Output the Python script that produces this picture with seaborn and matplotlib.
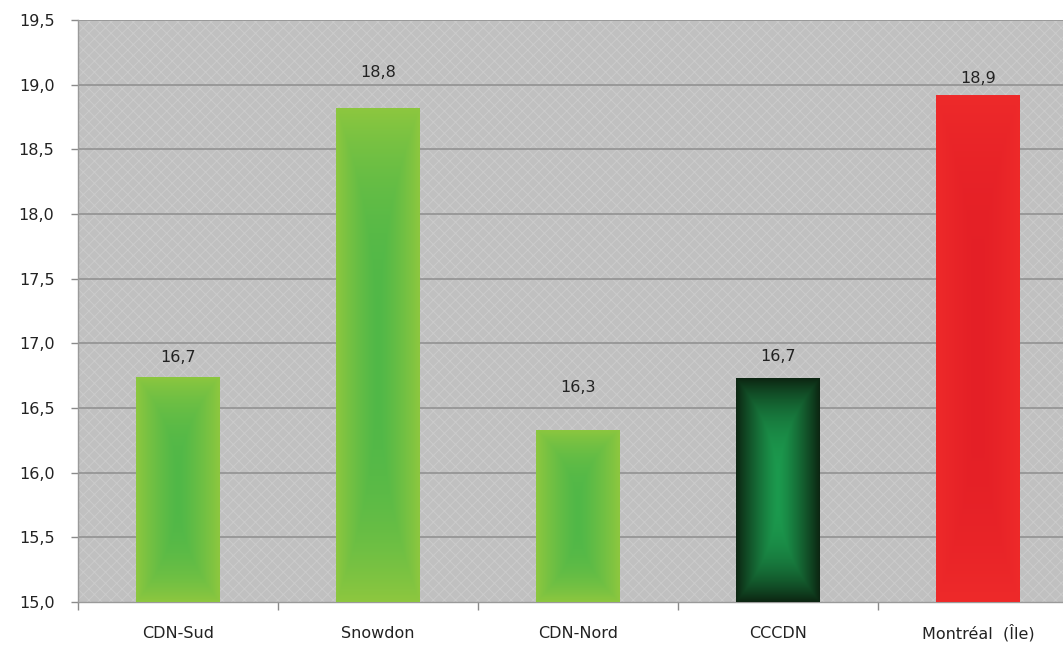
import numpy as np
import pandas as pd
import matplotlib
matplotlib.use("Agg")
import matplotlib.pyplot as plt
import matplotlib.colors as mcolors
from matplotlib.patches import Rectangle
from matplotlib.ticker import FixedLocator, FuncFormatter
import seaborn as sns

# ---- data ----
categories = ["CDN-Sud", "Snowdon", "CDN-Nord", "CCCDN", "Montréal  (Île)"]
values = [16.74, 18.82, 16.33, 16.73, 18.92]
edge_colors = ["#8dc73f", "#8dc73f", "#8dc73f", "#0c2612", "#ee2a2a"]
center_colors = ["#50b848", "#50b848", "#50b848", "#1c9a4e", "#e41f26"]
label_offsets_px = [19, 35, 42, 22, 17]
y_ticks = [15.0, 15.5, 16.0, 16.5, 17.0, 17.5, 18.0, 18.5, 19.0, 19.5]

sns.set_theme(style="white")
plt.rcParams['font.family'] = ['DejaVu Sans']
plt.rcParams['hatch.linewidth'] = 0.7

W, H = 1063, 647
fig = plt.figure(figsize=(W / 100, H / 100), dpi=100, facecolor="white")
ax = fig.add_axes([78 / W, (H - 602) / H, 1000 / W, 582 / H])

df = pd.DataFrame({"cat": categories, "val": values})
sns.barplot(data=df, x="cat", y="val", hue="cat", palette=edge_colors,
            width=0.42, legend=False, ax=ax, saturation=1, zorder=3,
            linewidth=0, edgecolor="none")

ax.set_ylim(15.0, 19.5)
ax.set_xlim(-0.5, len(categories) - 0.5)

# background
ax.set_facecolor("#c0c0c0")
bg = Rectangle((0, 0), 1, 1, transform=ax.transAxes, facecolor="none",
               edgecolor="#cbcbcb", hatch="xxx", linewidth=0, zorder=0.5)
ax.add_patch(bg)

# gridlines
for yv in y_ticks[1:]:
    ax.axhline(yv, color="#8e8e8e", lw=1.1, zorder=1)

# gradient fill for bars
ny, nx = 200, 100
gx = np.abs(np.linspace(-1, 1, nx))[None, :]
gy = np.abs(np.linspace(-1, 1, ny))[:, None]
for i, patch in enumerate(ax.patches[:len(categories)]):
    x0 = patch.get_x(); w = patch.get_width()
    y0 = patch.get_y(); h = patch.get_height()
    if y0 < 15.0:
        h = h - (15.0 - y0); y0 = 15.0
    t = np.maximum(gx, gy ** 2.2)
    t = np.clip(t, 0, 1) ** 1.3
    c0 = np.array(mcolors.to_rgb(center_colors[i]))
    c1 = np.array(mcolors.to_rgb(edge_colors[i]))
    img = c0[None, None, :] * (1 - t[..., None]) + c1[None, None, :] * t[..., None]
    im = ax.imshow(img, extent=[x0, x0 + w, y0, y0 + h], aspect="auto",
                   origin="lower", zorder=3.5, interpolation="bilinear")
    im.set_clip_path(patch)
    label = f"{values[i]:.1f}".replace(".", ",")
    ax.annotate(label, (x0 + w / 2, patch.get_y() + patch.get_height()),
                xytext=(0, label_offsets_px[i]), textcoords="offset pixels",
                ha="center", va="center", fontsize=11.5, color="#222222", zorder=5)
ax.set_xlim(-0.5, len(categories) - 0.5)
ax.set_ylim(15.0, 19.5)

# axes styling
for s in ["top", "right"]:
    ax.spines[s].set_visible(False)
ax.spines["left"].set_color("#9a9a9a")
ax.spines["bottom"].set_color("#9a9a9a")
ax.spines["left"].set_linewidth(1.0)
ax.spines["bottom"].set_linewidth(1.0)

ax.yaxis.set_major_locator(FixedLocator(y_ticks))
ax.yaxis.set_major_formatter(FuncFormatter(lambda v, p: f"{v:.1f}".replace(".", ",")))
ax.tick_params(axis="y", which="major", left=True, length=5, width=1, color="#8a8a8a",
               pad=12, labelsize=11.5, labelcolor="#222222")

ax.set_xticks(range(len(categories)))
ax.set_xticklabels(categories)
ax.xaxis.set_minor_locator(FixedLocator(np.arange(-0.5, len(categories), 1.0)))
ax.tick_params(axis="x", which="major", bottom=False, length=0, pad=26,
               labelsize=11.5, labelcolor="#222222")
ax.tick_params(axis="x", which="minor", bottom=True, length=6, width=1, color="#8a8a8a")
for lbl in ax.get_xticklabels():
    lbl.set_verticalalignment("baseline")

ax.set_xlabel("")
ax.set_ylabel("")

fig.savefig("out.png", dpi=100, facecolor="white")
